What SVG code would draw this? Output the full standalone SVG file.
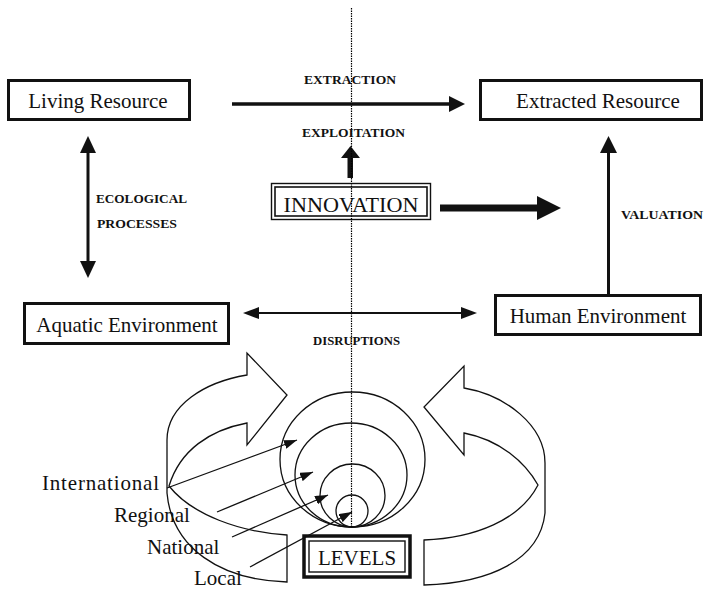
<svg xmlns="http://www.w3.org/2000/svg" width="711" height="589" viewBox="0 0 711 589">
<style>
text{font-family:"Liberation Serif","Times New Roman",serif;fill:#111}
.box{fill:#fff;stroke:#111;stroke-width:3}
.big{font-size:21px}
.cap{font-size:13.5px;font-weight:bold}
.thin{fill:none;stroke:#111;stroke-width:1.3}
.rib{fill:none;stroke:#111;stroke-width:1.3;stroke-linejoin:miter}
.head{fill:#111}
</style>
<defs>
<marker id="ah" markerUnits="userSpaceOnUse" markerWidth="13" markerHeight="9" refX="13" refY="4.5" orient="auto">
<path d="M0,0 L13,4.5 L0,9 z" fill="#111"/>
</marker>
</defs>
<rect width="711" height="589" fill="#fff"/>

<g id="living-resource">
<rect class="box" x="8.5" y="80.5" width="181" height="39"/>
<text class="big" x="98" y="108" text-anchor="middle">Living Resource</text>
</g>
<g id="extracted-resource">
<rect class="box" x="480.5" y="80.5" width="221" height="39"/>
<text class="big" x="598" y="108" text-anchor="middle">Extracted Resource</text>
</g>
<g id="innovation">
<rect x="271.5" y="183.5" width="159" height="36" fill="#fff" stroke="#111" stroke-width="1.4"/>
<rect x="275" y="187" width="152" height="29" fill="none" stroke="#111" stroke-width="1.6"/>
<text x="351" y="212" text-anchor="middle" font-size="21.5" textLength="135" lengthAdjust="spacingAndGlyphs">INNOVATION</text>
</g>
<g id="aquatic-environment">
<rect class="box" x="24.5" y="303.5" width="204" height="40"/>
<text class="big" x="127" y="332" text-anchor="middle">Aquatic Environment</text>
</g>
<g id="human-environment">
<rect class="box" x="495.5" y="295.5" width="205" height="39"/>
<text class="big" x="598" y="323" text-anchor="middle">Human Environment</text>
</g>
<g id="levels">
<rect x="304" y="536" width="106" height="41" fill="#fff" stroke="#111" stroke-width="3.5"/>
<rect x="309" y="541" width="96" height="31" fill="none" stroke="#111" stroke-width="1.4"/>
<text x="357" y="565" text-anchor="middle" font-size="21">LEVELS</text>
</g>

<g id="level-circles" class="thin">
<ellipse cx="352.5" cy="459.5" rx="72.5" ry="67.5"/>
<ellipse cx="351" cy="475" rx="56" ry="52"/>
<ellipse cx="352.5" cy="495.5" rx="32.5" ry="31.5"/>
<ellipse cx="352" cy="511" rx="16" ry="16"/>
</g>

<g id="left-ribbon" class="rib">
<path d="M247,375 C205,382 167,405 167,440 L167,493 C172,548 220,580 287,582 L287,535 C240,532 192,515 169,486 C180,450 210,430 247,423 L247,445 L287,395 L247,353 Z" fill="#fff"/>
</g>
<g id="right-ribbon" class="rib">
<path d="M464,388 C505,395 545,425 545,463 L545,513 C540,560 490,583 424,585 L424,540 C475,538 520,520 538,485 C525,462 500,440 464,433 L464,455 L424,407 L464,366 Z" fill="#fff"/>
</g>

<g id="level-labels">
<text x="42" y="490" font-size="21" textLength="117" lengthAdjust="spacing">International</text>
<text x="114" y="522" font-size="21">Regional</text>
<text x="147" y="554" font-size="21">National</text>
<text x="194" y="585" font-size="21">Local</text>
</g>

<g id="connectors">
<line x1="232" y1="104" x2="451" y2="104" stroke="#111" stroke-width="3.5"/>
<polygon class="head" points="449,96 465,104 449,112"/>
<line x1="88" y1="150" x2="88" y2="264" stroke="#111" stroke-width="3"/>
<polygon class="head" points="80,153 88,136 96,153"/>
<polygon class="head" points="80,261 88,278 96,261"/>
<rect x="347.5" y="156" width="5.5" height="22" fill="#111"/>
<polygon class="head" points="341,158 350.5,146 360,158"/>
<rect x="440" y="204.5" width="99" height="7" fill="#111"/>
<polygon class="head" points="537,196 561,208 537,220"/>
<line x1="608.5" y1="150" x2="608.5" y2="295" stroke="#111" stroke-width="3"/>
<polygon class="head" points="600,153 608.5,136 617,153"/>
<line x1="255" y1="313" x2="465" y2="313" stroke="#111" stroke-width="1.8"/>
<polygon class="head" points="243,313 259,307 259,319"/>
<polygon class="head" points="477,313 461,307 461,319"/>
<line x1="167" y1="488" x2="297" y2="440" class="thin" marker-end="url(#ah)"/>
<line x1="217" y1="512" x2="313" y2="472" class="thin" marker-end="url(#ah)"/>
<line x1="232" y1="537" x2="328" y2="495" class="thin" marker-end="url(#ah)"/>
<line x1="250" y1="567" x2="352" y2="512" class="thin" marker-end="url(#ah)"/>
<line x1="351.5" y1="8" x2="351.5" y2="527" stroke="#000" stroke-width="1.2" stroke-dasharray="1.5 1"/>
</g>

<g id="edge-labels" class="cap">
<text x="350" y="84" text-anchor="middle" textLength="92" lengthAdjust="spacingAndGlyphs">EXTRACTION</text>
<text x="353.5" y="137" text-anchor="middle" textLength="103" lengthAdjust="spacingAndGlyphs">EXPLOITATION</text>
<text x="96" y="203" textLength="91" lengthAdjust="spacingAndGlyphs">ECOLOGICAL</text>
<text x="97" y="228" textLength="80" lengthAdjust="spacingAndGlyphs">PROCESSES</text>
<text x="621" y="219" textLength="82" lengthAdjust="spacingAndGlyphs">VALUATION</text>
<text x="313" y="345" textLength="87" lengthAdjust="spacingAndGlyphs">DISRUPTIONS</text>
</g>
</svg>
